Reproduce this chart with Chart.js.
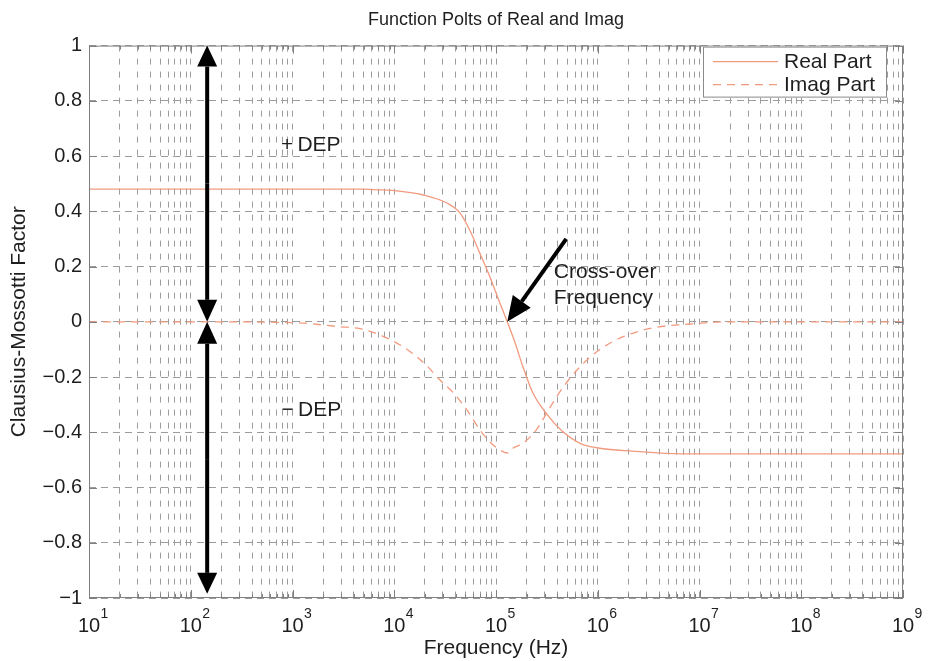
<!DOCTYPE html>
<html>
<head>
<meta charset="utf-8">
<script src="https://cdn.jsdelivr.net/npm/chart.js@4.4.1/dist/chart.umd.min.js"></script>
<style>
  html, body { margin: 0; padding: 0; background: #fff; }
  #wrap { width: 935px; height: 661px; }
</style>
</head>
<body>
<div id="wrap"><canvas id="cmChart"></canvas></div>
<script>
// ----------------------------------------------------------------
//  Data
// ----------------------------------------------------------------
const realFreq = [10, 100, 1000, 5000, 6800, 1e4, 1.9e4, 3.3e4, 4.4e4, 5.5e4, 6.9e4, 8.7e4, 1.09e5, 1.29e5,
                  1.54e5, 1.84e5, 2.3e5, 3.2e5, 4.3e5, 6.7e5, 9.8e5, 2.6e6, 6.5e6, 1e7, 1e8, 1e9];
const realVals = [0.48, 0.48, 0.48, 0.48, 0.478, 0.475, 0.46, 0.43, 0.395, 0.333, 0.25, 0.163, 0.069, 0,
                  -0.076, -0.163, -0.257, -0.337, -0.39, -0.44, -0.456, -0.47, -0.478, -0.478, -0.478, -0.478];

const imagFreq = [10, 100, 1000, 2950, 4600, 7200, 1.34e4, 2.1e4, 2.8e4, 3.8e4, 5.2e4, 6.9e4, 8.7e4, 1.09e5,
                  1.29e5, 1.48e5, 1.84e5, 2.5e5, 3.4e5, 4.6e5, 6.7e5, 1.05e6, 1.78e6, 3.5e6, 8.1e6, 2e7, 1e8, 1e9];
const imagVals = [0, 0, -0.003, -0.018, -0.025, -0.047, -0.1, -0.16, -0.21, -0.257, -0.32, -0.39, -0.435, -0.464,
                  -0.475, -0.457, -0.44, -0.39, -0.31, -0.235, -0.163, -0.1, -0.054, -0.022, -0.008, 0, 0, 0];

const decadeExps  = [1, 2, 3, 4, 5, 6, 7, 8, 9];
const minorSteps  = [2, 3, 4, 5, 6, 7, 8, 9];
const yTickLabels = ['\u22121', '\u22120.8', '\u22120.6', '\u22120.4', '\u22120.2', '0', '0.2', '0.4', '0.6', '0.8', '1'];

const FONT   = '"Liberation Sans", Arial, sans-serif';
const FS     = 21;
const TXT    = '#1e1e1e';
const GRID   = '#9c9c9c';
const CURVE  = '#f29a7e';

// ----------------------------------------------------------------
//  Helpers
// ----------------------------------------------------------------
function arrow(ctx, x1, y1, x2, y2, len, half) {
  const a  = Math.atan2(y2 - y1, x2 - x1);
  const bx = x2 - len * Math.cos(a);
  const by = y2 - len * Math.sin(a);
  ctx.beginPath();
  ctx.moveTo(x1, y1);
  ctx.lineTo(bx, by);
  ctx.stroke();
  ctx.beginPath();
  ctx.moveTo(x2, y2);
  ctx.lineTo(bx + half * Math.sin(a), by - half * Math.cos(a));
  ctx.lineTo(bx - half * Math.sin(a), by + half * Math.cos(a));
  ctx.closePath();
  ctx.fill();
}

// box, inner ticks, x labels with exponents, annotations, legend
const decorPlugin = {
  id: 'decor',
  afterDraw(chart) {
    const { ctx, chartArea: a, scales: { x, y } } = chart;
    ctx.save();
    ctx.setLineDash([]);

    // axis box
    ctx.strokeStyle = '#808080';
    ctx.lineWidth = 1;
    ctx.strokeRect(a.left + 0.5, a.top + 0.5, a.right - a.left - 1, a.bottom - a.top - 1);

    // inward tick marks
    ctx.beginPath();
    x.ticks.forEach(t => {
      const px = Math.round(x.getPixelForValue(t.value)) + 0.5;
      const len = t.major ? 8 : 4;
      ctx.moveTo(px, a.top); ctx.lineTo(px, a.top + len);
      ctx.moveTo(px, a.bottom); ctx.lineTo(px, a.bottom - len);
    });
    y.ticks.forEach(t => {
      const py = Math.round(y.getPixelForValue(t.value)) + 0.5;
      ctx.moveTo(a.left, py); ctx.lineTo(a.left + 8, py);
      ctx.moveTo(a.right, py); ctx.lineTo(a.right - 8, py);
    });
    ctx.stroke();

    // x tick labels: 10^n, base centred on the tick
    ctx.fillStyle = TXT;
    ctx.textBaseline = 'middle';
    ctx.textAlign = 'left';
    decadeExps.forEach(e => {
      const px = x.getPixelForValue(Math.pow(10, e));
      ctx.font = '20px ' + FONT;
      const w1 = ctx.measureText('10').width;
      const left = px - w1 / 2;
      ctx.fillText('10', left, a.bottom + 28);
      ctx.font = '14px ' + FONT;
      ctx.fillText(String(e), left + w1 + 0.5, a.bottom + 16);
    });

    // DEP double arrows
    ctx.fillStyle = '#000';
    ctx.strokeStyle = '#000';
    ctx.lineWidth = 4;
    const ax = x.getPixelForValue(145);
    arrow(ctx, ax, y.getPixelForValue(0.5), ax, y.getPixelForValue(1), 21, 10);
    arrow(ctx, ax, y.getPixelForValue(0.5), ax, y.getPixelForValue(0), 22, 10);
    arrow(ctx, ax, y.getPixelForValue(-0.5), ax, y.getPixelForValue(0), 22, 10);
    arrow(ctx, ax, y.getPixelForValue(-0.5), ax, y.getPixelForValue(-0.985), 21, 10);

    // cross-over arrow
    arrow(ctx, x.getPixelForValue(4.9e5), y.getPixelForValue(0.3),
               x.getPixelForValue(1.29e5), y.getPixelForValue(0), 25, 11);

    // annotation text
    ctx.fillStyle = TXT;
    ctx.font = FS + 'px ' + FONT;
    ctx.fillText('+\u2009DEP', x.getPixelForValue(770), y.getPixelForValue(0.64));
    ctx.fillText('\u2212\u2009DEP', x.getPixelForValue(780), y.getPixelForValue(-0.32));
    ctx.fillText('Cross-over', x.getPixelForValue(3.7e5), y.getPixelForValue(0.178));
    ctx.fillText('Frequency', x.getPixelForValue(3.7e5), y.getPixelForValue(0.087));

    // legend box
    const lw = 184, lh = 51;
    const lx = a.right - 16, ly = a.top + 1;
    ctx.fillStyle = '#fff';
    ctx.fillRect(lx - lw, ly, lw, lh);
    ctx.strokeStyle = '#8a8a8a';
    ctx.lineWidth = 1;
    ctx.strokeRect(lx - lw + 0.5, ly + 0.5, lw - 1, lh - 1);
    chart.data.datasets.forEach((ds, i) => {
      const cy = ly + 15 + i * 23;
      ctx.strokeStyle = ds.borderColor;
      ctx.lineWidth = ds.borderWidth;
      ctx.setLineDash(ds.borderDash || []);
      ctx.beginPath();
      ctx.moveTo(lx - lw + 10, cy);
      ctx.lineTo(lx - lw + 75, cy);
      ctx.stroke();
      ctx.setLineDash([]);
      ctx.fillStyle = TXT;
      ctx.font = FS + 'px ' + FONT;
      ctx.fillText(ds.label, lx - lw + 81, cy + 1);
    });

    ctx.restore();
  }
};

// ----------------------------------------------------------------
//  Chart
// ----------------------------------------------------------------
new Chart(document.getElementById('cmChart'), {
  type: 'line',
  data: {
    datasets: [{
      label: 'Real Part',
      data: realFreq.map((f, i) => ({ x: f, y: realVals[i] })),
      borderColor: CURVE,
      borderWidth: 1.3,
      pointRadius: 0,
      cubicInterpolationMode: 'monotone',
    }, {
      label: 'Imag Part',
      data: imagFreq.map((f, i) => ({ x: f, y: imagVals[i] })),
      borderColor: CURVE,
      borderWidth: 1.3,
      borderDash: [8, 6],
      pointRadius: 0,
      cubicInterpolationMode: 'monotone',
    }]
  },
  options: {
    responsive: true,
    maintainAspectRatio: false,
    animation: false,
    layout: { padding: { left: 0, right: 32, top: 0, bottom: 0 } },
    plugins: {
      legend: { display: false },
      tooltip: { enabled: false },
      title: {
        display: true,
        text: 'Function Polts of Real and Imag',
        fullSize: false,
        color: TXT,
        font: { family: FONT, size: 18, weight: 'normal' },
        padding: { top: 9, bottom: 15 }
      }
    },
    scales: {
      x: {
        type: 'logarithmic',
        min: 10,
        max: 1e9,
        afterBuildTicks: (scale) => {
          const ticks = [];
          decadeExps.forEach(e => {
            const base = Math.pow(10, e);
            ticks.push({ value: base, major: true });
            if (e < 9) minorSteps.forEach(m => ticks.push({ value: m * base, major: false }));
          });
          scale.ticks = ticks;
        },
        afterFit: (scale) => { scale.height = 63; },
        ticks: { display: false },
        grid: { color: GRID, lineWidth: 1, drawTicks: false },
        border: { display: false, dash: [6, 7] },
        title: {
          display: true,
          text: 'Frequency (Hz)',
          color: TXT,
          font: { family: FONT, size: FS },
          padding: { top: 0, bottom: 0 }
        }
      },
      y: {
        min: -1,
        max: 1,
        afterFit: (scale) => { scale.width = 89; },
        ticks: {
          stepSize: 0.2,
          padding: 7,
          color: TXT,
          font: { family: FONT, size: 20 },
          callback: (v, i) => yTickLabels[i]
        },
        grid: { color: GRID, lineWidth: 1, drawTicks: false },
        border: { display: false, dash: [7, 5] },
        title: {
          display: true,
          text: 'Clausius-Mossotti Factor',
          color: TXT,
          font: { family: FONT, size: FS },
          padding: { top: 7, bottom: 0 }
        }
      }
    }
  },
  plugins: [decorPlugin]
});
</script>
</body>
</html>
